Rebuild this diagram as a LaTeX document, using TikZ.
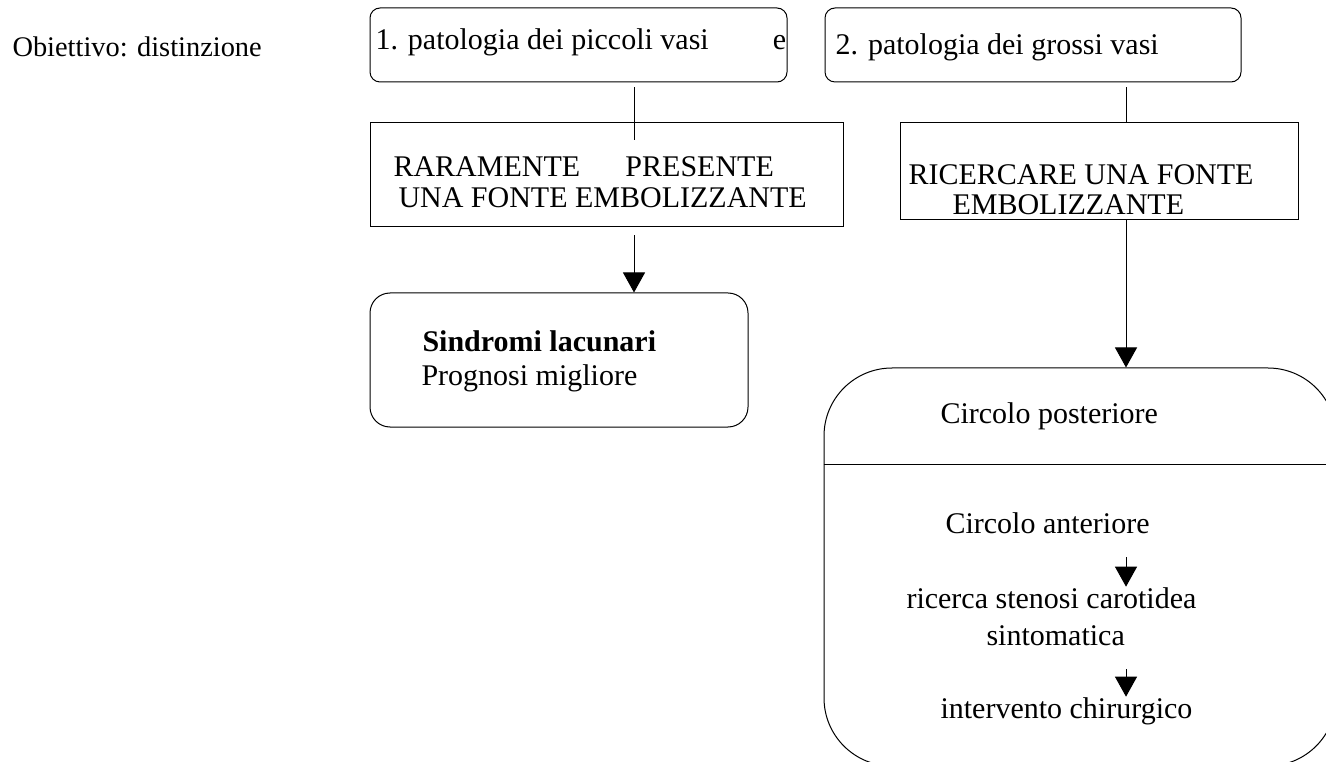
\documentclass[tikz,border=0pt]{standalone}
\usepackage{fontspec}
\setmainfont{Liberation Serif}
\usetikzlibrary{arrows.meta}

\tikzset{every picture/.style={line width=0.75pt}}
\tikzset{
	txt/.style={anchor=base west, inner sep=0pt, font=\fontsize{22.5}{27}\selectfont},
	tabbox/.style={draw, rounded corners=7.5pt, inner sep=0pt},
	plainbox/.style={draw, inner sep=0pt},
	roundbox/.style={draw, rounded corners=15pt, inner sep=0pt},
	bigbox/.style={draw, rounded corners=51pt, inner sep=0pt},
	flow/.style={-{Triangle[length=15pt,width=16.5pt]}},
}

\begin{document}
\begin{tikzpicture}[x=0.75pt,y=0.75pt,yscale=-1,xscale=1]
	\useasboundingbox (0,0) rectangle (1326,762);
	\clip (0,0) rectangle (1326,762);

	%Shape: Rounded Rect [id:piccoli]
	\node[tabbox, minimum width=312.75pt, minimum height=55.5pt] (pic1) at (578.5,45) {};
	%Shape: Rounded Rect [id:grossi]
	\node[tabbox, minimum width=312pt, minimum height=55.5pt] (pic2) at (1033,45) {};
	%Shape: Rectangle [id:raramente]
	\node[plainbox, minimum width=354.75pt, minimum height=78pt] (box3) at (606.5,175) {};
	%Shape: Rectangle [id:ricercare]
	\node[plainbox, minimum width=298.5pt, minimum height=72.75pt] (box4) at (1099,171.5) {};
	%Shape: Rounded Rect [id:lacunari]
	\node[roundbox, minimum width=283.5pt, minimum height=100.5pt] (box5) at (559,360) {};
	%Shape: Rounded Rect [id:circolo]
	\node[bigbox, minimum width=384pt, minimum height=298.5pt] (box6) at (1080,567) {};

	\coordinate (colL) at (634,140);
	\coordinate (colR) at (1126,0);
	\coordinate (divy) at (0,464);

	%Straight Lines
	\draw [shorten <=3.75pt] (pic1.south -| colL) -- (colL);
	\draw [shorten <=3.75pt] (pic2.south -| colR) -- (box4.north -| colR);
	\draw [flow, shorten <=6pt] (box3.south -| colL) -- (box5.north -| colL);
	\draw [flow] (box4.south -| colR) -- (box6.north -| colR);
	\draw (box6.west |- divy) -- (box6.east |- divy);

	% Text Node
	\node[txt, font=\fontsize{21.3}{26}\selectfont] (obj) at (12,57) {Obiettivo: distinzione};
	% Text Node
	\node[txt] (t1) at (375,50) {\hbox to 308pt{1. patologia dei piccoli vasi\hfill e}};
	% Text Node
	\node[txt] (t2) at (835,55) {2. patologia dei grossi vasi};
	% Text Node
	\node[txt] (rara1) at (393,177) {RARAMENTE\hspace{34pt}PRESENTE};
	\node[txt] (rara2) at (398,208) {UNA FONTE EMBOLIZZANTE};
	% Text Node
	\node[txt] (ric1) at (908,185) {RICERCARE UNA FONTE};
	\node[txt] (ric2) at (952,215) {EMBOLIZZANTE};
	% Text Node
	\node[txt] (lac1) at (422,352) {\bfseries Sindromi lacunari};
	\node[txt] (lac2) at (421,385) {Prognosi migliore};
	% Text Node
	\node[txt] (post) at (940,423) {Circolo posteriore};
	\node[txt] (ant) at (945,533) {Circolo anteriore};
	\node[txt] (sten1) at (906,608) {ricerca stenosi carotidea};
	\node[txt] (sten2) at (986,645) {sintomatica};
	\node[txt] (chir) at (940,718) {intervento chirurgico};

	\coordinate (a1) at (1126,557);
	\coordinate (a2) at (1126,669);
	\draw [flow] (a1) -- (a1 |- sten1.north);
	\draw [flow] (a2) -- (a2 |- chir.north);

\end{tikzpicture}
\end{document}
